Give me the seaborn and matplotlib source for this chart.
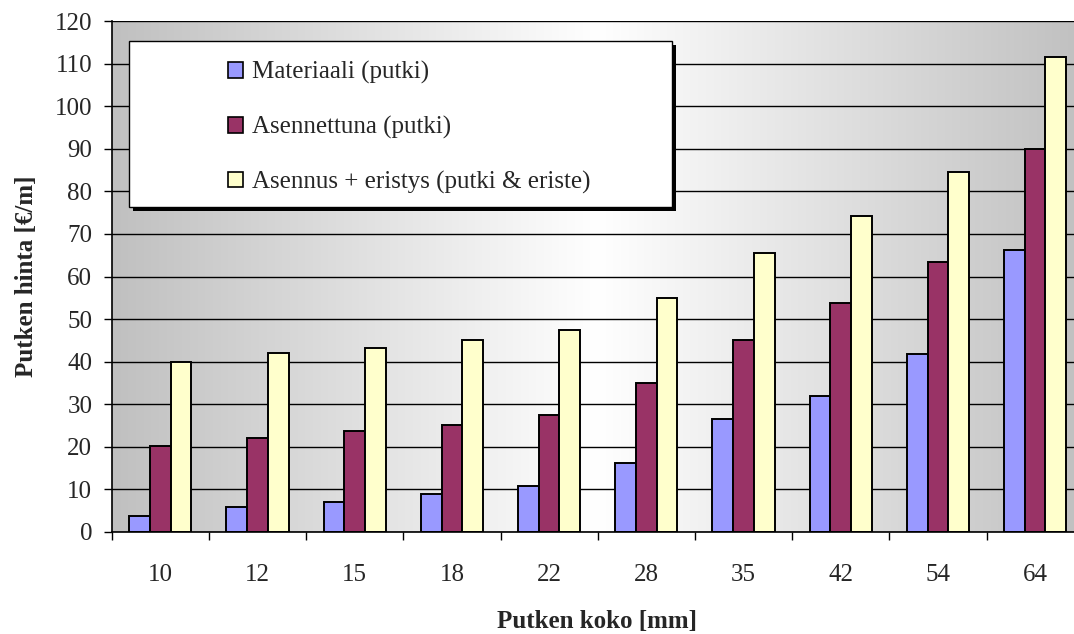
import numpy as np
import pandas as pd
import matplotlib
matplotlib.use("Agg")
import matplotlib.pyplot as plt
from matplotlib.patches import Rectangle, Patch
import seaborn as sns

# Pipe sizes (mm) and prices (EUR per metre)
sizes = ["10", "12", "15", "18", "22", "28", "35", "42", "54", "64"]
series_names = ["Materiaali (putki)", "Asennettuna (putki)",
                "Asennus + eristys (putki & eriste)"]
materiaali = [3.8, 5.8, 7.0, 8.9, 10.8, 16.3, 26.5, 31.9, 41.7, 66.3]
asennettuna = [20.2, 22.1, 23.7, 25.2, 27.5, 35.1, 45.2, 53.8, 63.5, 90.0]
eristys = [40.0, 42.0, 43.2, 45.1, 47.4, 54.9, 65.5, 74.1, 84.5, 111.5]
colors = ["#9999FF", "#993366", "#FFFFCC"]
y_ticks = list(range(0, 121, 10))

df = pd.DataFrame({
    "koko": sizes * 3,
    "sarja": [series_names[0]] * len(sizes) + [series_names[1]] * len(sizes)
             + [series_names[2]] * len(sizes),
    "hinta": materiaali + asennettuna + eristys,
})

sns.set_theme(style="white")
plt.rcParams["font.family"] = ["Liberation Serif", "DejaVu Serif"]
FS = 18

W, H = 1074, 634
fig = plt.figure(figsize=(W / 100, H / 100), dpi=100)
x0, x1, y0, y1 = 111.7, 1083.7, 532.0, 21.0
ax = fig.add_axes([x0 / W, 1 - y0 / H, (x1 - x0) / W, (y0 - y1) / H])

# horizontal grey-white-grey background
t = np.linspace(0, 1, 600)
g = (192 + 63 * (1 - np.abs(t - 0.5) * 2)) / 255.0
grad = np.stack([g, g, g], axis=-1)[None, :, :].repeat(2, axis=0)
ax.imshow(grad, extent=(-0.5, len(sizes) - 0.5, 0, 120), aspect="auto",
          zorder=0, interpolation="bilinear")

sns.barplot(data=df, x="koko", y="hinta", hue="sarja", order=sizes,
            hue_order=series_names, palette=colors, width=0.64,
            edgecolor="black", linewidth=1.4, saturation=1, ax=ax,
            legend=False, zorder=2)

ax.set_xlim(-0.5, len(sizes) - 0.5)
ax.set_ylim(0, 120)
ax.set_yticks(y_ticks)
ax.set_yticklabels([str(v) for v in y_ticks], fontsize=FS)
ax.yaxis.grid(True, color="black", linewidth=1.0, zorder=1)
ax.set_axisbelow(True)
ax.xaxis.grid(False)

ax.set_xticks(range(len(sizes)))
ax.set_xticklabels(sizes, fontsize=FS)
ax.set_xticks(np.arange(-0.5, len(sizes), 1.0), minor=True)
ax.tick_params(axis="x", which="major", length=0, pad=23)
ax.tick_params(axis="x", which="minor", length=6, width=1, color="black",
               direction="out", bottom=True)
ax.tick_params(axis="y", length=6, width=1, color="black", direction="out",
               left=True, pad=8)

for side in ["top", "right"]:
    ax.spines[side].set_visible(False)
for side in ["left", "bottom"]:
    ax.spines[side].set_color("black")
    ax.spines[side].set_linewidth(1.2)

ax.set_xlabel("Putken koko [mm]", fontsize=FS, fontweight="bold")
ax.set_ylabel("Putken hinta [€/m]", fontsize=FS, fontweight="bold")
ax.xaxis.set_label_coords((597 - x0) / (x1 - x0), -(610 - y0) / (y0 - y1))
ax.yaxis.set_label_coords(-(x0 - 38) / (x1 - x0), 0.5)

# legend frame with a hard drop shadow
lx, ly, lw, lh = 129, 41, 543, 166
fig.patches.append(Rectangle(((lx + 4) / W, 1 - (ly + lh + 4) / H), lw / W, lh / H,
                             transform=fig.transFigure, facecolor="black",
                             edgecolor="none", zorder=5))
fig.patches.append(Rectangle((lx / W, 1 - (ly + lh) / H), lw / W, lh / H,
                             transform=fig.transFigure, facecolor="white",
                             edgecolor="black", linewidth=1.0, zorder=6))
handles = [Patch(facecolor=c, edgecolor="black", linewidth=1.2) for c in colors]
leg = fig.legend(handles, series_names, loc="upper left",
                 bbox_to_anchor=(228 / W, 1 - 61 / H), frameon=False,
                 fontsize=FS, handlelength=0.6, handleheight=0.6,
                 handletextpad=0.35, labelspacing=1.27, borderpad=0,
                 borderaxespad=0)
leg.set_zorder(7)

fig.savefig("out.png", dpi=100)
